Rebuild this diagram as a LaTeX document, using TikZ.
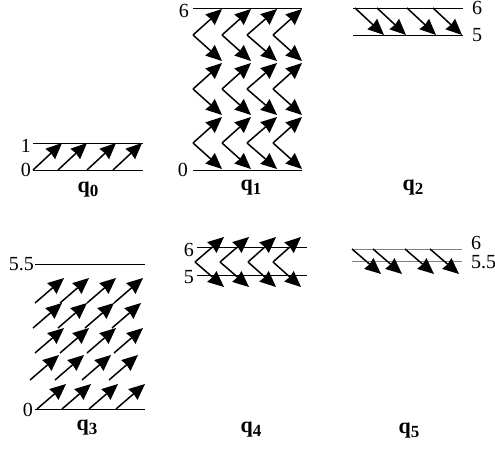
\documentclass[tikz,border=0pt]{standalone}
\usepackage{fontspec}
\setmainfont{Liberation Serif}
\usetikzlibrary{arrows.meta}
\newcommand{\qname}[1]{\textbf{q}\raisebox{-4.5pt}{\fontsize{17}{17}\selectfont\textbf{#1}}}
\tikzset{
  vec/.style={-{Stealth[length=16pt,width=14pt,inset=1pt]}, line width=1.5pt},
  levline/.style={line width=0.8pt},
  greyline/.style={line width=1pt, draw=black!50},
  num/.style={inner sep=0pt, font=\fontsize{20}{20}\selectfont},
  qlbl/.style={inner sep=0pt, anchor=base, font=\fontsize{22}{22}\selectfont}}

\begin{document}
\begin{tikzpicture}[x=1pt,y=-1pt]
  \useasboundingbox (0,0) rectangle (495,450);

  % q0
  \draw[levline] (33,143) -- (143,143);
  \draw[levline] (33,170) -- (143,170);
  \node[num, anchor=east] (q0one) at (31,146) {1};
  \node[num, anchor=east] (q0zero) at (31,170) {0};
  \foreach \x in {33,58,87,113}
    \draw[vec] (\x,170) -- ++(29,-27);
  \node[qlbl] (q0) at (88,192) {\qname{0}};

  % q1
  \draw[levline] (193,8) -- (302,8);
  \draw[levline] (193,170) -- (302,170);
  \node[num, anchor=east] (q1six) at (189,11) {6};
  \node[num, anchor=east] (q1zero) at (188,170) {0};
  \foreach \l/\r in {193/222,222/251,247/277,273/302}
    \foreach \y in {35,89,143} {
      \draw[vec] (\l,\y) -- (\r,\y-26);
      \draw[vec] (\l,\y) -- (\r,\y+26);
    }
  \node[qlbl] (q1) at (251,190) {\qname{1}};

  % q2
  \draw[levline] (353,8) -- (463,8);
  \draw[levline] (353,35) -- (463,35);
  \node[num, anchor=west] (q2six) at (472,8) {6};
  \node[num, anchor=west] (q2five) at (472,35) {5};
  \foreach \x in {355,377,407,433}
    \draw[vec] (\x,8) -- ++(29,27);
  \node[qlbl] (q2) at (413,190) {\qname{2}};

  % q3
  \draw[levline] (35,264) -- (145,264);
  \draw[levline] (35,409) -- (145,409);
  \node[num, anchor=east] (q3top) at (34,264) {5.5};
  \node[num, anchor=east] (q3zero) at (33,410) {0};
  \foreach \y/\xa in {409/37,380/30,353/35,328/33,303/35}
    \foreach \dx in {0,25,52,79}
      \draw[vec] (\xa+\dx,\y) -- ++(29,-25);
  \node[qlbl] (q3) at (87,430) {\qname{3}};

  % q4
  \draw[levline] (197,247) -- (307,247);
  \draw[levline] (197,275) -- (307,275);
  \node[num, anchor=east] (q4six) at (194,250) {6};
  \node[num, anchor=east] (q4five) at (194,277) {5};
  \foreach \l/\r in {195/224,220/249,248/276,273/301} {
    \draw[vec] (\l,262) -- (\r,237);
    \draw[vec] (\l,262) -- (\r,287);
  }
  \node[qlbl] (q4) at (251,432) {\qname{4}};

  % q5
  \draw[greyline] (352,249) -- (462,249);
  \draw[greyline] (352,261) -- (462,261);
  \node[num, anchor=west] (q5six) at (471,243) {6};
  \node[num, anchor=west] (q5top) at (471,262) {5.5};
  \foreach \x in {352,373,405,430}
    \draw[vec] (\x,249) -- ++(29,25);
  \node[qlbl] (q5) at (409,433) {\qname{5}};
\end{tikzpicture}
\end{document}
